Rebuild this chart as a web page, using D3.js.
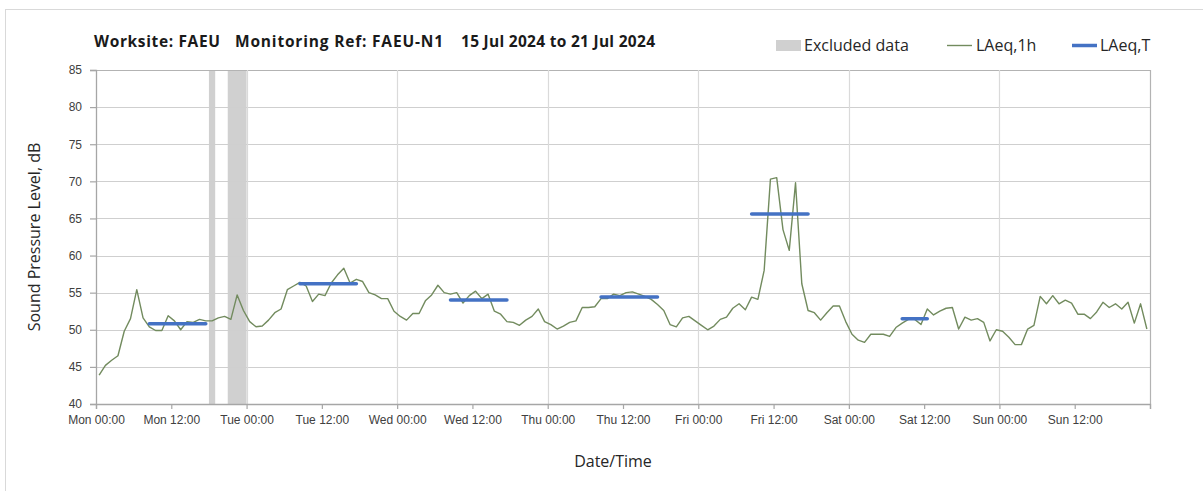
<!DOCTYPE html>
<html>
<head>
<meta charset="utf-8">
<script src="https://cdnjs.cloudflare.com/ajax/libs/d3/7.8.5/d3.min.js"></script>
<style>
  body { margin: 0; background: #fff; }
  svg { display: block; font-family: "Open Sans", "DejaVu Sans", sans-serif; }
</style>
</head>
<body>
<div id="chart"></div>
<script>
// hourly LAeq,1h values, one array per day (00:00 .. 23:00)
var monLevels = [43.9, 45.2, 45.9, 46.5, 49.8, 51.5, 55.4, 51.6, 50.4, 49.9, 49.9, 51.9,
                 51.2, 50.0, 51.1, 51.0, 51.4, 51.2, 51.2, 51.6, 51.8, 51.4, 54.7, 52.6];
var tueLevels = [51.1, 50.4, 50.5, 51.3, 52.3, 52.8, 55.4, 55.9, 56.4, 55.9, 53.8, 54.8,
                 54.6, 56.3, 57.4, 58.3, 56.3, 56.8, 56.5, 55.0, 54.7, 54.2, 54.2, 52.5];
var wedLevels = [51.8, 51.3, 52.2, 52.2, 53.9, 54.7, 56.0, 55.0, 54.8, 55.0, 53.6, 54.6,
                 55.2, 54.2, 54.8, 52.5, 52.1, 51.1, 51.0, 50.6, 51.3, 51.8, 52.8, 51.1];
var thuLevels = [50.7, 50.1, 50.5, 51.0, 51.2, 53.0, 53.0, 53.1, 54.2, 54.2, 54.8, 54.6,
                 55.0, 55.1, 54.8, 54.5, 54.1, 53.4, 52.6, 50.7, 50.4, 51.6, 51.8, 51.2];
var friLevels = [50.6, 50.0, 50.5, 51.4, 51.7, 52.9, 53.5, 52.7, 54.4, 54.1, 58.0, 70.3,
                 70.5, 63.5, 60.7, 69.8, 56.2, 52.6, 52.3, 51.3, 52.3, 53.2, 53.2, 51.1];
var satLevels = [49.4, 48.6, 48.3, 49.4, 49.4, 49.4, 49.1, 50.3, 50.9, 51.4, 51.4, 50.7,
                 52.8, 52.0, 52.5, 52.9, 53.0, 50.1, 51.7, 51.3, 51.5, 51.0, 48.5, 50.0];
var sunLevels = [49.8, 49.0, 48.0, 48.0, 50.1, 50.6, 54.5, 53.5, 54.6, 53.5, 54.0, 53.6,
                 52.1, 52.1, 51.5, 52.4, 53.7, 53.0, 53.5, 52.8, 53.7, 50.9, 53.5, 50.1];

// LAeq,T working periods (hours from Mon 00:00)
var periodStart = [8, 32, 56, 80, 104, 128];
var periodEnd   = [18, 42, 66, 90, 114, 133];
var periodLevel = [50.8, 56.2, 54.0, 54.4, 65.6, 51.5];

// excluded data (hours from Mon 00:00)
var excludedStart = [18, 21];
var excludedEnd   = [19, 24];

var xTickLabels = ["Mon 00:00", "Mon 12:00", "Tue 00:00", "Tue 12:00", "Wed 00:00", "Wed 12:00",
                   "Thu 00:00", "Thu 12:00", "Fri 00:00", "Fri 12:00", "Sat 00:00", "Sat 12:00",
                   "Sun 00:00", "Sun 12:00"];
var yTicks = [40, 45, 50, 55, 60, 65, 70, 75, 80, 85];

var titleParts = ["Worksite: FAEU", "Monitoring Ref: FAEU-N1", "15 Jul 2024 to 21 Jul 2024"];

var W = 1203, H = 491;
// plot area (don't use "top" - clashes with window.top)
var plotL = 96, plotR = 1150, plotT = 70, plotB = 404;

var hourly = [].concat(monLevels, tueLevels, wedLevels, thuLevels, friLevels, satLevels, sunLevels);
var data = hourly.map(function(v, i) { return {h: i + 0.5, v: v}; });

var svg = d3.select("#chart").append("svg")
    .attr("width", W)
    .attr("height", H);

svg.append("rect").attr("width", W).attr("height", H).attr("fill", "#fff");
// outer frame
svg.append("rect")
    .attr("x", 5.5).attr("y", 9.5)
    .attr("width", 1210).attr("height", 500)
    .attr("fill", "none").attr("stroke", "#d9d9d9");

var x = d3.scaleLinear().domain([0, 168]).range([plotL, plotR]);
var y = d3.scaleLinear().domain([40, 85]).range([plotB, plotT]);

// excluded bands
svg.append("g").selectAll("rect")
  .data(excludedStart)
  .enter().append("rect")
    .attr("x", function(d) { return x(d); })
    .attr("y", y(85))
    .attr("width", function(d, i) { return x(excludedEnd[i]) - x(d); })
    .attr("height", y(40) - y(85))
    .attr("fill", "#d0d0d0");

// horizontal grid
svg.append("g").selectAll("line")
  .data(yTicks.slice(1))
  .enter().append("line")
    .attr("x1", plotL).attr("x2", plotR)
    .attr("y1", function(d) { return Math.round(y(d)) + 0.5; })
    .attr("y2", function(d) { return Math.round(y(d)) + 0.5; })
    .attr("stroke", function(d) { return d == 85 ? "#b3b3b3" : "#cfcfcf"; })
    .attr("stroke-width", 1.2);

// vertical day grid
svg.append("g").selectAll("line")
  .data(d3.range(24, 169, 24))
  .enter().append("line")
    .attr("x1", function(d) { return Math.round(x(d)) + 0.5; })
    .attr("x2", function(d) { return Math.round(x(d)) + 0.5; })
    .attr("y1", plotT).attr("y2", plotB)
    .attr("stroke", function(d) { return d == 168 ? "#b3b3b3" : "#dadada"; })
    .attr("stroke-width", 1.2);

// axes
var xAxis = svg.append("g")
    .attr("transform", "translate(0," + plotB + ")")
    .call(d3.axisBottom(x)
      .tickValues(d3.range(0, 169, 12))
      .tickSize(5)
      .tickPadding(6)
      .tickFormat(function(d) { return xTickLabels[d / 12] || ""; }));

var yAxis = svg.append("g")
    .attr("transform", "translate(" + plotL + ",0)")
    .call(d3.axisLeft(y).tickValues(yTicks).tickSize(6).tickPadding(8));

[xAxis, yAxis].forEach(function(a) {
  a.select(".domain").attr("stroke", "#a6a6a6").attr("stroke-width", 1.3);
  a.selectAll(".tick line").attr("stroke", "#a6a6a6").attr("stroke-width", 1.2);
  a.selectAll("text").attr("fill", "#404040").style("font-size", "12px");
});

// LAeq,1h line
var line = d3.line()
    .x(function(d) { return x(d.h); })
    .y(function(d) { return y(d.v); });

svg.append("path")
    .datum(data)
    .attr("d", line)
    .attr("fill", "none")
    .attr("stroke", "#728b5e")
    .attr("stroke-width", 1.4)
    .attr("stroke-linejoin", "round");

// LAeq,T segments
svg.append("g").selectAll("line")
  .data(periodLevel)
  .enter().append("line")
    .attr("x1", function(d, i) { return x(periodStart[i] + 0.5); })
    .attr("x2", function(d, i) { return x(periodEnd[i] - 0.5); })
    .attr("y1", function(d) { return y(d); })
    .attr("y2", function(d) { return y(d); })
    .attr("stroke", "#4472c4")
    .attr("stroke-width", 3.5)
    .attr("stroke-linecap", "round");

// title - three pieces, stretched a little to the original widths
var titleX = [94, 235, 461];
var titleW = [126, 208, 194];
svg.append("g").selectAll("text")
  .data(titleParts)
  .enter().append("text")
    .attr("x", function(d, i) { return titleX[i]; })
    .attr("y", 47)
    .attr("textLength", function(d, i) { return titleW[i]; })
    .attr("lengthAdjust", "spacing")
    .attr("fill", "#1a1a1a")
    .style("font-size", "15.5px")
    .style("font-weight", "bold")
    .text(function(d) { return d; });

// legend
var legend = svg.append("g").style("font-size", "16px").attr("fill", "#262626");
legend.append("rect").attr("x", 776).attr("y", 40).attr("width", 25).attr("height", 11).attr("fill", "#d0d0d0");
legend.append("text").attr("x", 804).attr("y", 51).text("Excluded data");
legend.append("line").attr("x1", 947).attr("x2", 972).attr("y1", 45.5).attr("y2", 45.5)
    .attr("stroke", "#728b5e").attr("stroke-width", 1.4);
legend.append("text").attr("x", 976).attr("y", 51).text("LAeq,1h");
legend.append("line").attr("x1", 1072).attr("x2", 1097).attr("y1", 45.5).attr("y2", 45.5)
    .attr("stroke", "#4472c4").attr("stroke-width", 3.5);
legend.append("text").attr("x", 1100).attr("y", 51).text("LAeq,T");

// axis titles
svg.append("text")
    .attr("transform", "translate(40,237) rotate(-90)")
    .attr("text-anchor", "middle")
    .attr("fill", "#262626")
    .style("font-size", "16px")
    .text("Sound Pressure Level, dB");

svg.append("text")
    .attr("x", 613).attr("y", 467)
    .attr("text-anchor", "middle")
    .attr("fill", "#262626")
    .style("font-size", "16px")
    .text("Date/Time");
</script>
</body>
</html>
